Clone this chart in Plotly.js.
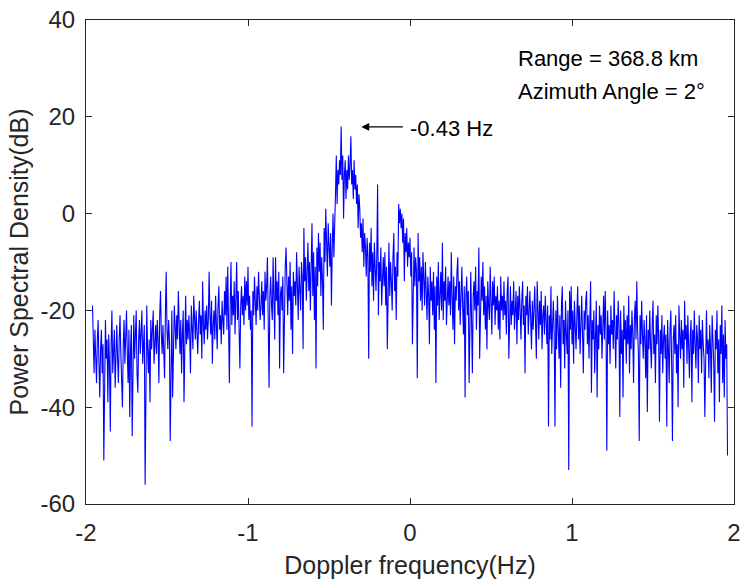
<!DOCTYPE html>
<html>
<head>
<meta charset="utf-8">
<script src="https://cdn.plot.ly/plotly-3.0.1.min.js"></script>
<style>html,body{margin:0;padding:0;background:#fff;}#chart{width:744px;height:581px;}</style>
</head>
<body>
<div id="chart"></div>
<script>
// Doppler frequency grid (Hz): first bin, bin spacing
const freqStart = -1.96;
const freqStep = 0.005;

// Power spectral density (dB), left to right
const psdFarNeg = [
-19,-27,-33,-24,-29,-35,-26,-22,-31,-38,
-28,-24,-33,-27,-51,-29,-22,-30,-26,-39,
-25,-31,-45,-27,-20,-33,-28,-24,-36,-29,
-23,-30,-35,-26,-21,-29,-34,-40,-27,-22,
-31,-26,-20,-29,-35,-24,-42,-28,-23,-46,
-27,-21,-30,-25,-20,-33,-37,-26,-22,-29,
-24,-20,-31,-27,-23,-56,-25,-19,-28,-33,
-26,-39,-22,-28,-24,-20,-31,-27,-23,-29,
-22,-26,-35,-21,-16,-25,-29,-23,-27,-34,
-21,-12,-24,-28,-22,-26,-47,-24,-20,-38,
-25,-19,-23,-28,-21,-26,-16,-24,-29,-22,
-33,-25,-20,-39,-23,-17,-27,-22,-26,-21,
-25,-33,-19,-24,-28,-17,-22,-26,-20,-24,
-29,-22,-18,-25,-21,-30,-14,-23,-27,-20,
-24,-19,-26,-22,-12,-21,-25,-18,-31,-23,
-20,-26,-17,-23,-28,-19,-15,-24,-21,-27,
-18,-22,-25,-16,-21,-13,-24,-11,-20,-35,
-19,-10,-23,-17,-21,-14,-25,-18,-10,-22,
-16,-24,-32,-19,-15,-21,-17,-23,-13,-20
];
const psdNearNeg = [
-14,-19,-11,-22,-17,-24,-20,-44,-16,-21,
-13,-18,-23,-15,-20,-12,-17,-22,-19,-14,
-21,-16,-24,-12,-18,-15,-9,-20,-36,-17,
-13,-19,-22,-9,-16,-26,-9,-18,-14,-21,
-12,-32,-17,-15,-20,-13,-33,-18,-11,-7,
-16,-21,-13,-18,-10,-24,-15,-29,-12,-17,
-14,-19,-8,-16,-22,-11,-15,-20,-10,-13,
-28,-3,-14,-9,-18,-12,-6,-16,-10,-20,
-13,-2,-17,-8,-22,-11,-32,-7,-15,-4,
-12,-6,-17,-9,-14,-24,-3,-10,1,-8,
-13,-2,-6,-11,-4,-19,-7,0,-9,2
];
const psdPeak = [
4,12,2,9,6,11,8,18,7,12,
-1,8,11,3,9,5,12,7,10,16,
6,9,3,11,5,8,2,6,-3,4,
1,-5,-2,-8,-1,-11,-4,-7,-13,-5,
-9,-30,-6,-12,-3,-15,-8,-18,-6,-11,
-16,-9,6,-21,-10,-14,-7,-19,-12,-9,
-15,-8,-19,-11,-28,-13,-6,-17,-10,-14,
-20,-9,-4,-16,-11,-22,-8,-13,2,-2,
1,-3,0,-6,-1,-14,-4,-8,-3,-11,
-6,-9,-5,-13,-8,-27,-10,-7,-15,-9
];
const psdNearPos = [
-12,-34,-4,-14,-9,-18,-11,-20,-8,-15,
-19,-10,-16,-22,-13,-17,-27,-11,-18,-14,
-21,-12,-24,-15,-35,-13,-19,-10,-22,-16,
-12,-20,-6,-22,-14,-18,-11,-23,-16,-13,
-19,-14,-21,-8,-17,-24,-13,-27,-15,-18,
-12,-9,-20,-14,-23,-16,-11,-19,-25,-15,
-38,-17,-13,-21,-16,-35,-19,-12,-22,-33,
-17,-14,-20,-11,-24,-16,-19,-7,-30,-15,
-13,-18,-10,-21,-15,-24,-17,-28,-14,-19,
-22,-11,-16,-25,-14,-19,-13,-23,-17,-20,
-15,-24,-18,-26,-13,-20,-17,-22,-14,-21,
-18,-25,-16,-13,-30,-19,-15,-23,-18,-21,
-14,-24,-19,-16,-27,-17,-22,-15,-20,-26,
-18,-14,-23,-19,-33,-17,-21,-15,-25,-19,
-16,-22,-28,-18,-24,-20,-15,-23,-30,-14,
-20,-26,-18,-23,-16,-28,-21,-19,-25,-17,
-22,-27,-19,-44,-21,-26,-15,-29,-23,-18,
-25,-44,-20,-28,-17,-24,-30,-21,-36,-19,
-15,-27,-22,-32,-18,-25,-29,-20,-53,-16
];
const psdFarPos = [
-24,-15,-27,-20,-31,-18,-23,-28,-21,-15,
-26,-19,-29,-22,-17,-25,-33,-20,-24,-18,
-16,-27,-21,-30,-19,-14,-37,-22,-26,-20,
-33,-24,-18,-38,-23,-28,-19,-25,-21,-30,
-22,-17,-26,-16,-24,-49,-20,-27,-23,-31,
-19,-25,-22,-28,-16,-24,-32,-21,-26,-18,
-23,-42,-20,-29,-24,-38,-19,-26,-22,-31,
-21,-27,-17,-33,-23,-28,-20,-25,-35,-22,
-18,-26,-14,-24,-29,-47,-21,-27,-18,-25,
-30,-22,-26,-34,-21,-41,-24,-28,-20,-27,
-32,-23,-18,-29,-25,-35,-21,-27,-19,-26,
-43,-24,-29,-21,-33,-26,-23,-30,-25,-44,
-22,-28,-35,-24,-20,-31,-47,-26,-23,-29,
-21,-33,-27,-40,-19,-25,-30,-22,-28,-24,
-36,-18,-26,-23,-31,-21,-28,-34,-25,-22,
-39,-24,-29,-20,-27,-32,-23,-26,-35,-21,
-28,-24,-33,-22,-27,-30,-42,-25,-20,-29,
-26,-34,-23,-28,-37,-21,-27,-31,-43,-24,
-28,-20,-33,-26,-39,-23,-29,-19,-35,-25,
-38,-22,-30,-27,-50
];

const psd = [].concat(psdFarNeg, psdNearNeg, psdPeak, psdNearPos, psdFarPos);
const freq = psd.map((_, i) => +(freqStart + i * freqStep).toFixed(3));

// Annotation values
const infoLines = ['Range = 368.8 km', 'Azimuth Angle = 2°'];
const peakLabel = '-0.43 Hz';

const fontFam = 'Liberation Sans, Arial, Helvetica, sans-serif';
const ink = '#262626';

const trace = {
  x: freq, y: psd, type: 'scatter', mode: 'lines',
  line: {color: '#0000ff', width: 1.1},
  hoverinfo: 'x+y'
};

const axisCommon = {
  showline: true, mirror: 'ticks', linecolor: '#262626', linewidth: 1,
  ticks: 'inside', ticklen: 6, tickwidth: 1, tickcolor: '#262626',
  showgrid: false, zeroline: false, automargin: false,
  tickfont: {family: fontFam, size: 24, color: ink}
};

const layout = {
  width: 744, height: 581,
  margin: {l: 86, r: 10, t: 20, b: 77},
  paper_bgcolor: '#ffffff', plot_bgcolor: '#ffffff',
  showlegend: false,
  xaxis: Object.assign({}, axisCommon, {
    range: [-2, 2], tickvals: [-2, -1, 0, 1, 2], ticktext: ['-2', '-1', '0', '1', '2'],
    ticklabelstandoff: 7,
    title: {text: 'Doppler frequency(Hz)', font: {family: fontFam, size: 25, color: ink}, standoff: 11}
  }),
  yaxis: Object.assign({}, axisCommon, {
    range: [-60, 40], tickvals: [-60, -40, -20, 0, 20, 40], ticktext: ['-60', '-40', '-20', '0', '20', '40'],
    ticklabelstandoff: 5,
    title: {text: 'Power Spectral Density(dB)', font: {family: fontFam, size: 25, color: ink}, standoff: 4}
  }),
  annotations: [
    {xref: 'paper', yref: 'paper', x: 0.664, y: 0.921, xanchor: 'left', yanchor: 'middle',
     text: infoLines[0], showarrow: false, font: {family: fontFam, size: 22, color: '#000'}},
    {xref: 'paper', yref: 'paper', x: 0.664, y: 0.853, xanchor: 'left', yanchor: 'middle',
     text: infoLines[1], showarrow: false, font: {family: fontFam, size: 22, color: '#000'}},
    {xref: 'x', yref: 'y', x: -0.30, y: 17.9, ax: -0.035, ay: 17.9, axref: 'x', ayref: 'y',
     text: '', showarrow: true, arrowhead: 2, arrowsize: 1.3, arrowwidth: 1.2, arrowcolor: '#000'},
    {xref: 'x', yref: 'y', x: -0.015, y: 17.6, xanchor: 'left', yanchor: 'middle',
     text: peakLabel, showarrow: false, font: {family: fontFam, size: 22, color: '#000'}}
  ]
};

Plotly.newPlot('chart', [trace], layout, {displayModeBar: false, staticPlot: true});
</script>
</body>
</html>
